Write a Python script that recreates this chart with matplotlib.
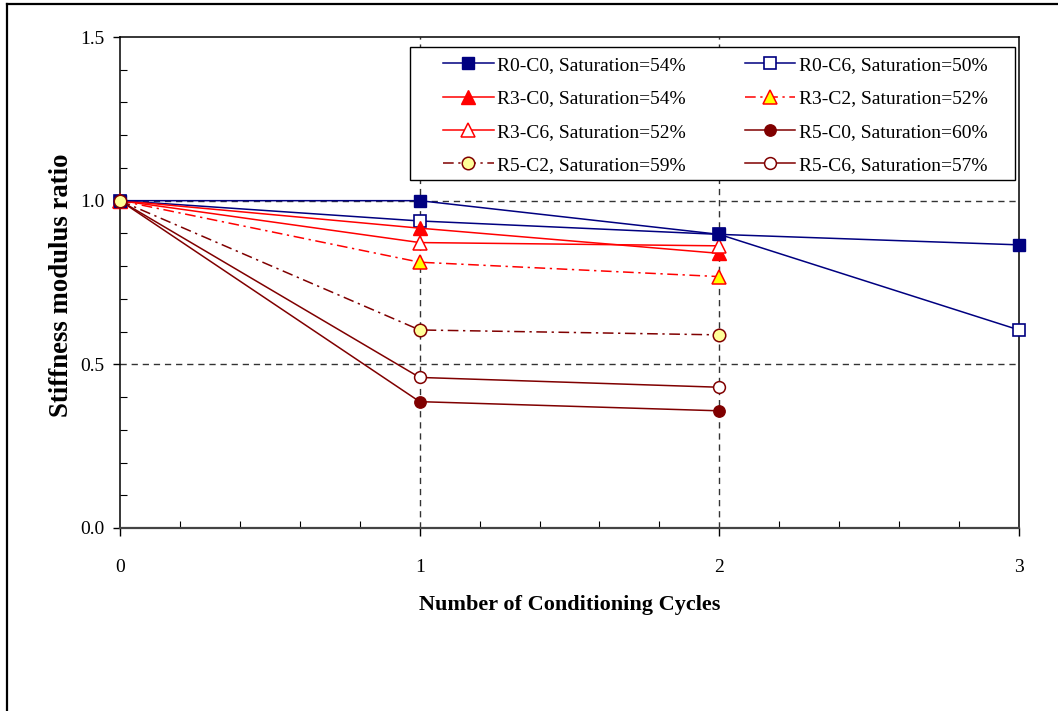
import matplotlib
matplotlib.use("Agg")
import matplotlib.pyplot as plt
from matplotlib.patches import Rectangle
from matplotlib.lines import Line2D
from matplotlib.ticker import MultipleLocator

plt.rcParams['font.family'] = ['Liberation Serif', 'DejaVu Serif']

# ---------------- data ----------------
cycles_long = [0, 1, 2, 3]
cycles_short = [0, 1, 2]

r0_c0 = [1.0, 1.0, 0.897, 0.865]
r0_c6 = [1.0, 0.938, 0.897, 0.605]
r3_c0 = [1.0, 0.916, 0.839]
r3_c2 = [1.0, 0.812, 0.768]
r3_c6 = [1.0, 0.872, 0.862]
r5_c0 = [1.0, 0.386, 0.358]
r5_c2 = [1.0, 0.605, 0.590]
r5_c6 = [1.0, 0.460, 0.430]

labels = ["R0-C0, Saturation=54%", "R0-C6, Saturation=50%",
          "R3-C0, Saturation=54%", "R3-C2, Saturation=52%",
          "R3-C6, Saturation=52%", "R5-C0, Saturation=60%",
          "R5-C2, Saturation=59%", "R5-C6, Saturation=57%"]

x_ticks = [0, 1, 2, 3]
y_ticks = [0.0, 0.5, 1.0, 1.5]

NAVY = '#000080'
RED = '#FF0000'
DRED = '#800000'

W, H = 1058, 711
fig = plt.figure(figsize=(W / 100, H / 100), dpi=100)

def fx(p):
    return p / W

def fy(p):
    return 1 - p / H

ax = fig.add_axes([fx(120), fy(528), fx(1019) - fx(120), fy(37) - fy(528)])
ax.set_xlim(0, 3)
ax.set_ylim(0, 1.5)

# grid lines (dashed) at 0.5, 1.0 and x=1,2
for yv in [0.5, 1.0]:
    ax.axhline(yv, color='#333333', lw=1.0, dashes=(4.5, 3.5), zorder=1)
for xv in [1, 2]:
    ax.axvline(xv, color='#333333', lw=1.0, dashes=(4.5, 3.5), zorder=1)

lw = 1.1
dashdot = (7, 3, 1.5, 3)
h = {}
h[1], = ax.plot(cycles_long, r0_c6, color=NAVY, lw=lw, marker='s', ms=9,
                mfc='white', mec=NAVY, mew=1.2, zorder=3, clip_on=False)
h[0], = ax.plot(cycles_long, r0_c0, color=NAVY, lw=lw, marker='s', ms=9,
                mfc=NAVY, mec=NAVY, zorder=3.2, clip_on=False)
h[2], = ax.plot(cycles_short, r3_c0, color=RED, lw=lw, marker='^', ms=10,
                mfc=RED, mec=RED, zorder=3, clip_on=False)
h[3], = ax.plot(cycles_short, r3_c2, color=RED, lw=lw, marker='^', ms=10,
                mfc='#FFFF00', mec=RED, mew=1.1, dashes=dashdot, zorder=3,
                clip_on=False)
h[4], = ax.plot(cycles_short, r3_c6, color=RED, lw=lw, marker='^', ms=10,
                mfc='white', mec=RED, mew=1.1, zorder=3, clip_on=False)
h[5], = ax.plot(cycles_short, r5_c0, color=DRED, lw=lw, marker='o', ms=8.2,
                mfc=DRED, mec=DRED, zorder=3, clip_on=False)
h[7], = ax.plot(cycles_short, r5_c6, color=DRED, lw=lw, marker='o', ms=8.5,
                mfc='white', mec=DRED, mew=1.1, zorder=3, clip_on=False)
h[6], = ax.plot(cycles_short, r5_c2, color=DRED, lw=lw, marker='o', ms=9,
                mfc='#FFFF99', mec=DRED, mew=1.1, dashes=dashdot, zorder=4,
                clip_on=False)

# axes styling
for s in ax.spines.values():
    s.set_linewidth(1.1)
    s.set_color('black')
ax.spines['bottom'].set_linewidth(1.6)
ax.spines['bottom'].set_color('#444444')

ax.set_xticks(x_ticks)
ax.set_xticklabels([str(v) for v in x_ticks])
ax.set_yticks(y_ticks)
ax.set_yticklabels([f"{v:.1f}" for v in y_ticks])
ax.xaxis.set_minor_locator(MultipleLocator(0.2))
ax.yaxis.set_minor_locator(MultipleLocator(0.1))
ax.tick_params(axis='x', which='major', direction='out', length=6, width=1,
               labelsize=14, pad=16)
ax.tick_params(axis='y', which='major', direction='out', length=5, width=1,
               labelsize=14, pad=6)
ax.tick_params(which='minor', direction='in', length=5, width=0.8)
ax.tick_params(top=False, right=False, which='both')

fig.text(fx(570), fy(605), "Number of Conditioning Cycles", ha='center',
         va='center', fontsize=16, fontweight='bold')
fig.text(fx(62), fy(285), "Stiffness modulus ratio", ha='center', va='center',
         rotation=90, fontsize=19.3, fontweight='bold')

# legend frame
ax.add_patch(Rectangle((fx(410), fy(180)), fx(1015) - fx(410), fy(47) - fy(180),
                       transform=fig.transFigure, facecolor='white',
                       edgecolor='black', lw=1.0, zorder=5, clip_on=False))
order = [0, 2, 4, 6, 1, 3, 5, 7]
leg = ax.legend([h[i] for i in order], [labels[i] for i in order], ncol=2,
                loc='upper left', bbox_to_anchor=(fx(443), fy(56.5)),
                bbox_transform=fig.transFigure, frameon=False, fontsize=14,
                handlelength=2.6, handletextpad=0.2, columnspacing=3.0,
                labelspacing=0.81, borderpad=0, borderaxespad=0)
leg.set_zorder(6)

# figure border (top and left)
fig.add_artist(Line2D([fx(7), 1.0], [fy(4), fy(4)], transform=fig.transFigure,
                      color='black', lw=1.6))
fig.add_artist(Line2D([fx(7), fx(7)], [fy(4), 0.0], transform=fig.transFigure,
                      color='black', lw=1.6))

fig.savefig("out.png", dpi=100)
